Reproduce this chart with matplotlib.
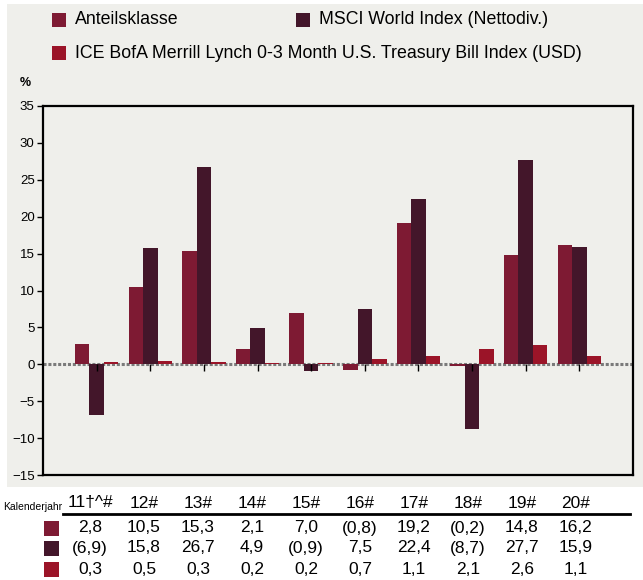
import numpy as np
import matplotlib
matplotlib.use("Agg")
import matplotlib.pyplot as plt
from matplotlib.patches import Rectangle

plt.rcParams['font.family'] = ['Liberation Sans Narrow', 'Liberation Sans', 'DejaVu Sans']

# data
years = ["11\u2020^#", "12#", "13#", "14#", "15#", "16#", "17#", "18#", "19#", "20#"]
anteil = [2.8, 10.5, 15.3, 2.1, 7.0, -0.8, 19.2, -0.2, 14.8, 16.2]
msci = [-6.9, 15.8, 26.7, 4.9, -0.9, 7.5, 22.4, -8.7, 27.7, 15.9]
ice = [0.3, 0.5, 0.3, 0.2, 0.2, 0.7, 1.1, 2.1, 2.6, 1.1]
names = ["Anteilsklasse", "MSCI World Index (Nettodiv.)",
         "ICE BofA Merrill Lynch 0-3 Month U.S. Treasury Bill Index (USD)"]
colors = ["#7e1a33", "#43162a", "#9b1428"]
bg = "#efefeb"


def fmt(v):
    s = "{:.1f}".format(abs(v)).replace(".", ",")
    return "(" + s + ")" if v < 0 else s


W, H = 643, 580
fig = plt.figure(figsize=(W / 100, H / 100), dpi=100)
fig.patch.set_facecolor("white")

# pixel overlay for panel, legend and table
ov = fig.add_axes([0, 0, 1, 1], zorder=0)
ov.set_xlim(0, W)
ov.set_ylim(H, 0)
ov.axis("off")
ov.add_patch(Rectangle((7, 4), W - 7, 483, facecolor=bg, edgecolor="none"))

# main chart
ax = fig.add_axes([43 / W, 1 - 475 / H, 590 / W, 369 / H], zorder=1)
ax.set_facecolor(bg)
x = np.arange(len(years))
bw = 0.27
for k, (vals, c) in enumerate(zip([anteil, msci, ice], colors)):
    ax.bar(x + (k - 1) * bw, vals, width=bw, color=c, zorder=3)
ax.axhline(0, color="#7a7a7a", lw=2.2, ls=(0, (1, 0.6)), zorder=2)
ax.vlines(x, 0, -0.9, color="black", lw=1, zorder=4)
ax.set_xlim(-1, 10)
ax.set_ylim(-15, 35)
ax.set_yticks(np.arange(-15, 36, 5))
ax.set_xticks([])
ax.tick_params(axis="y", direction="out", length=4, width=1, labelsize=9.5, pad=2)
for s in ax.spines.values():
    s.set_linewidth(1.6)
    s.set_color("black")
ax.text(-0.03, 1.062, "%", transform=ax.transAxes, fontsize=9, fontweight="bold",
        ha="center", va="center")

# legend
leg = [(52, 20, names[0], colors[0]), (296, 20, names[1], colors[1]),
       (52, 53, names[2], colors[2])]
for lx, ly, t, c in leg:
    ov.add_patch(Rectangle((lx, ly - 7), 14, 14, facecolor=c, edgecolor="none"))
    ov.text(lx + 23, ly, t, fontsize=12.75, ha="left", va="center")

# table
col0, dcol = 90, 54
ov.text(3, 507, "Kalenderjahr", fontsize=7.5, ha="left", va="center")
for i, y in enumerate(years):
    ov.text(col0 + dcol * i, 503, y, fontsize=12.5, ha="center", va="center")
ov.plot([63, 630], [514, 514], color="black", lw=2)
rows_y = [528, 548, 569]
for vals, c, ry in zip([anteil, msci, ice], colors, rows_y):
    ov.add_patch(Rectangle((44, ry - 7.5), 15, 15, facecolor=c, edgecolor="none"))
    for i, v in enumerate(vals):
        ov.text(col0 + dcol * i, ry, fmt(v), fontsize=12.5, ha="center", va="center")

fig.savefig("out.png", dpi=100, facecolor=fig.get_facecolor())
